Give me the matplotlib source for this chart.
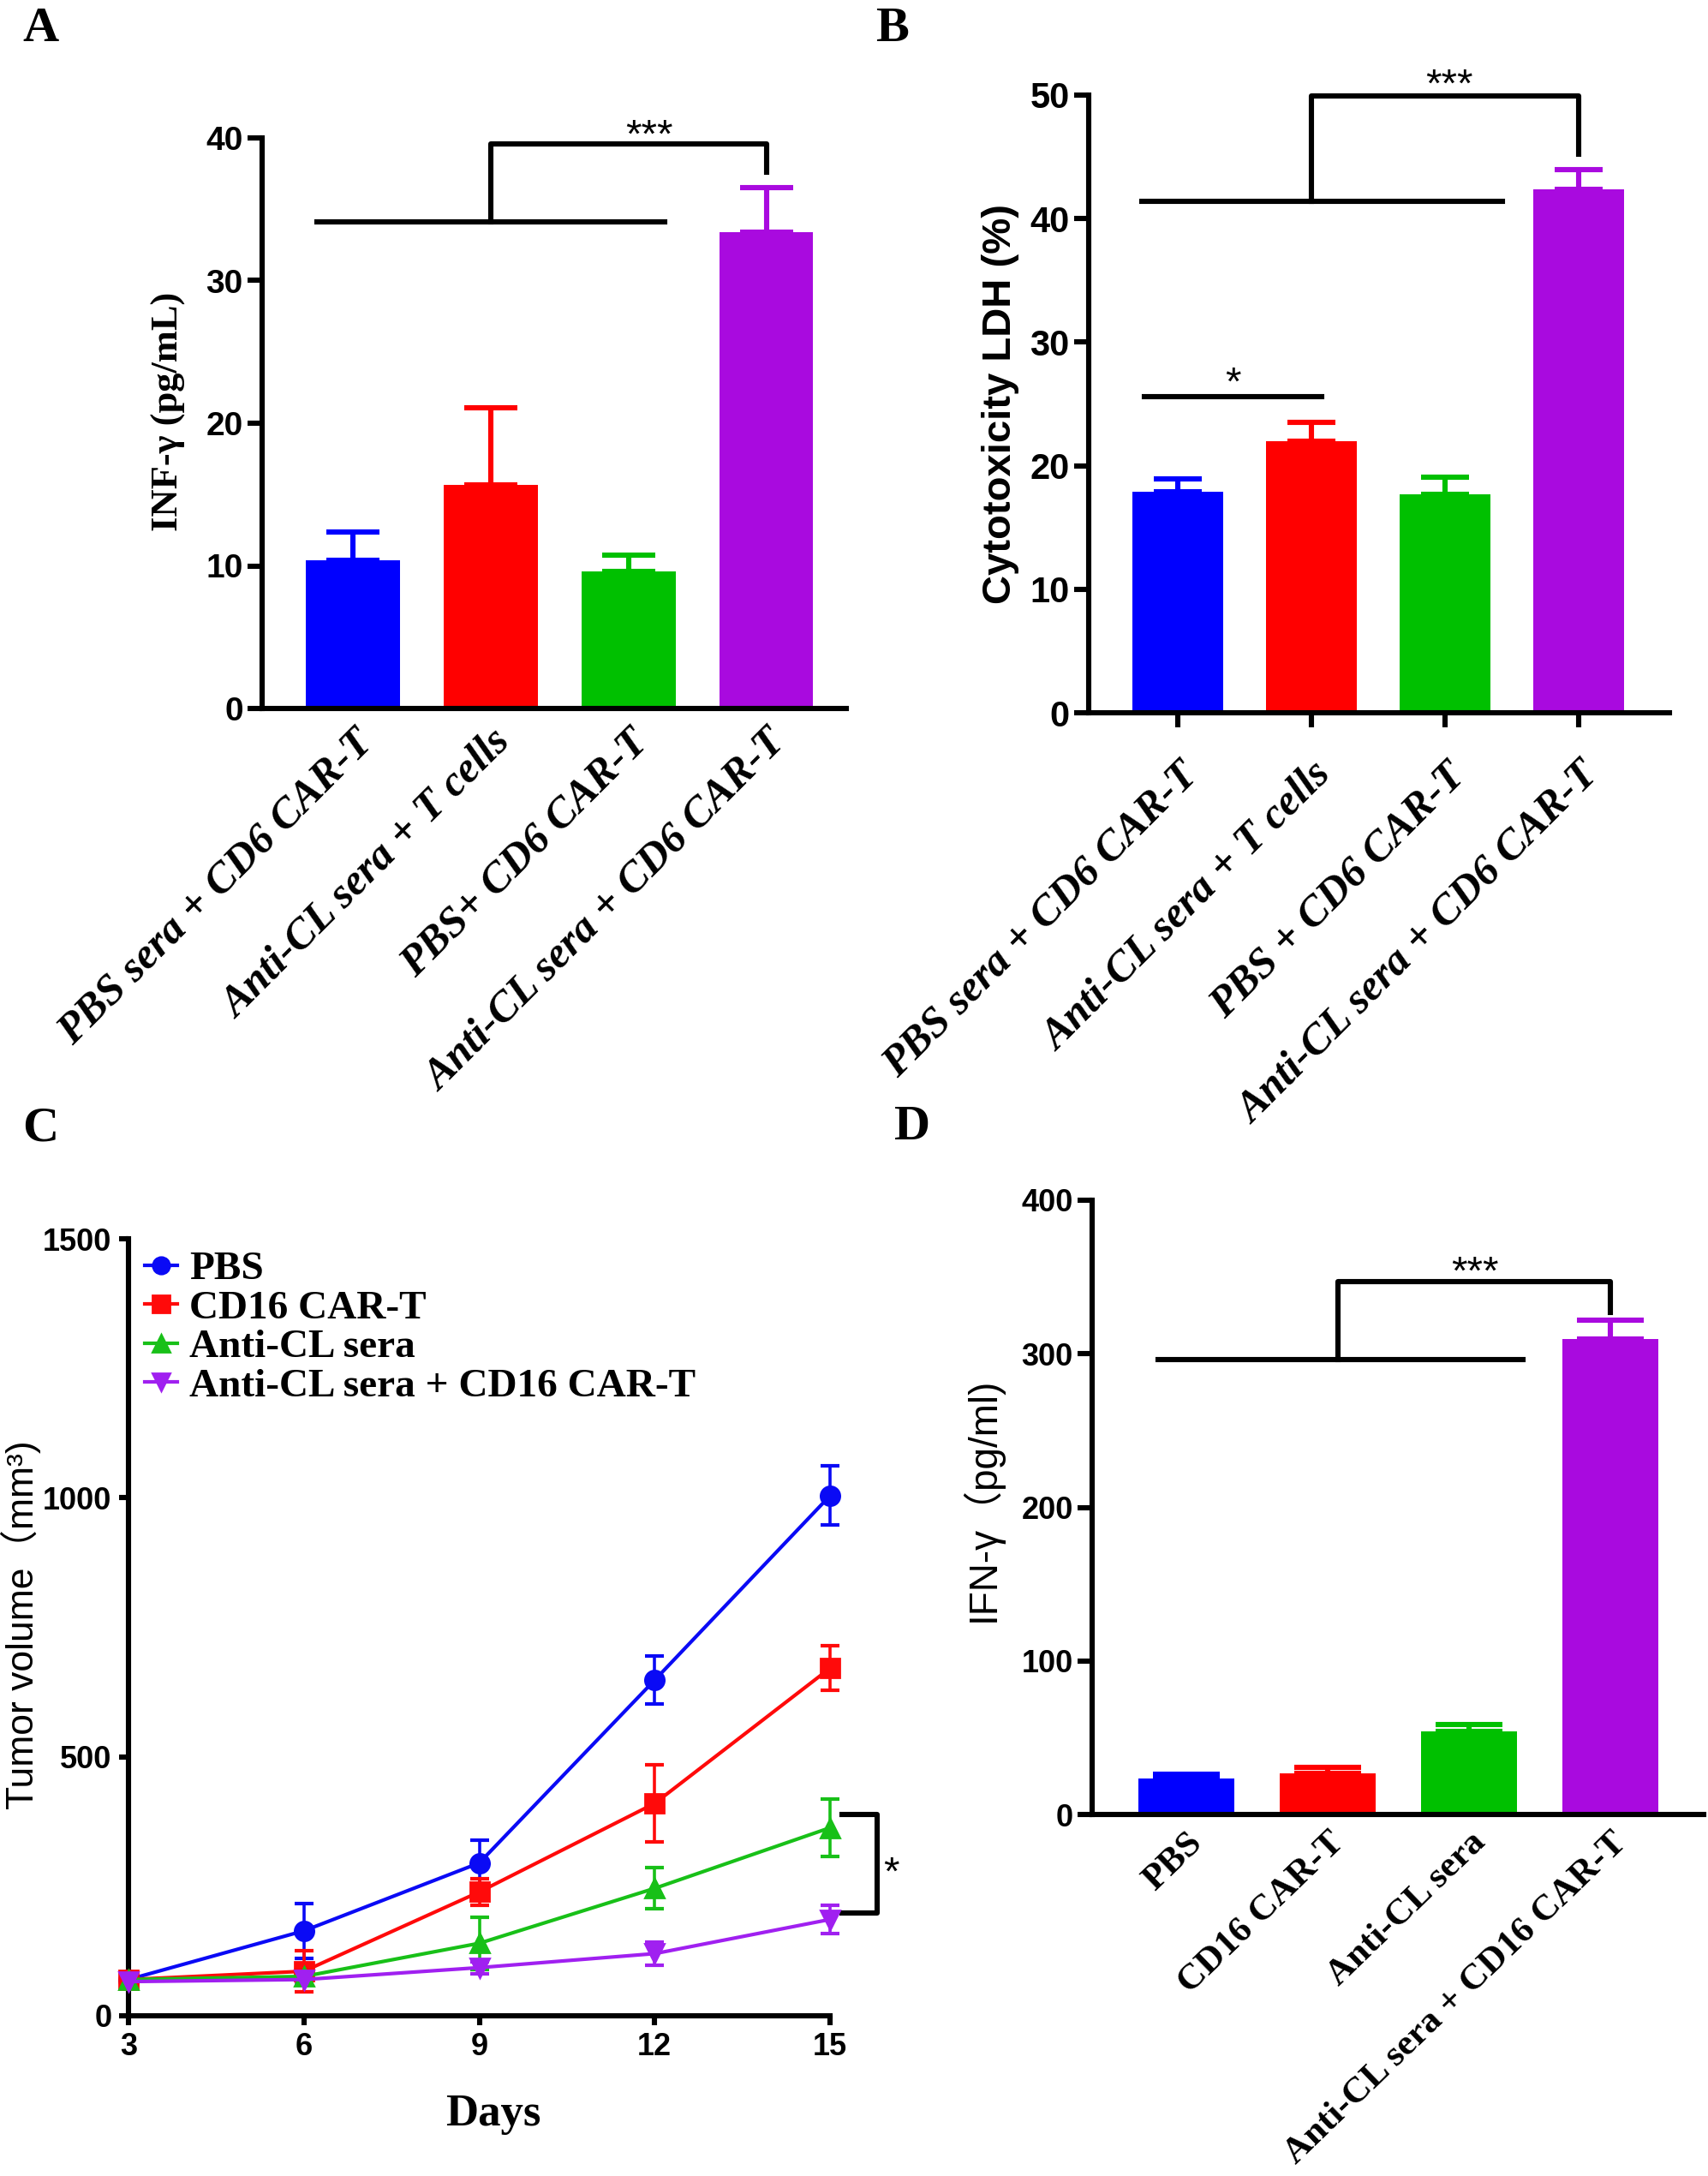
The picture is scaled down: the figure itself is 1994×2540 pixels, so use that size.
import numpy as np
import matplotlib
matplotlib.use('Agg')
import matplotlib.pyplot as plt
from matplotlib.lines import Line2D

plt.rcParams['font.family'] = ['Liberation Sans', 'Noto Sans CJK SC']
plt.rcParams['font.weight'] = 'bold'
plt.rcParams['axes.linewidth'] = 2.2
SERIF = 'Liberation Serif'

# ---- data ----
bar_colors = ['#0000FF', '#FF0000', '#00C000', '#A90ADF']

a_labels = ['PBS sera + CD6 CAR-T', 'Anti-CL sera + T cells',
            'PBS+ CD6 CAR-T', 'Anti-CL sera + CD6 CAR-T']
a_mean = [10.4, 15.7, 9.6, 33.4]
a_err = [2.0, 5.4, 1.15, 3.1]

b_labels = ['PBS sera + CD6 CAR-T', 'Anti-CL sera + T cells',
            'PBS + CD6 CAR-T', 'Anti-CL sera + CD6 CAR-T']
b_mean = [17.9, 22.0, 17.7, 42.4]
b_err = [1.0, 1.5, 1.4, 1.55]

days = [3, 6, 9, 12, 15]
c_names = ['PBS', 'CD16 CAR-T', 'Anti-CL sera', 'Anti-CL sera + CD16 CAR-T']
c_pbs = [70, 164, 295, 648, 1004]
c_pbs_err = [12, 53, 44, 46, 57]
c_cd16 = [70, 86, 239, 410, 671]
c_cd16_err = [12, 40, 25, 75, 43]
c_anti = [70, 76, 140, 246, 363]
c_anti_err = [8, 12, 50, 40, 56]
c_combo = [66, 70, 93, 120, 186]
c_combo_err = [6, 8, 12, 22, 27]
c_colors = ['#0A0AF5', '#FF0A0A', '#18C018', '#A020F0']
c_markers = ['o', 's', '^', 'v']

d_labels = ['PBS', 'CD16 CAR-T', 'Anti-CL sera', 'Anti-CL sera + CD16 CAR-T']
d_mean = [23.3, 26.5, 54.3, 309.4]
d_err = [2.7, 4.0, 4.0, 12.6]

W, H = 1994, 2540
fig = plt.figure(figsize=(W / 200, H / 200), dpi=200)


def box(l, r, t, b):
    return [l / W, 1 - b / H, (r - l) / W, (b - t) / H]


def bars(ax, means, errs, cap):
    x = np.arange(len(means))
    ax.bar(x, means, width=0.68, color=bar_colors, zorder=2)
    for xi, m, e, c in zip(x, means, errs, bar_colors):
        ax.errorbar(xi, m, yerr=[[0], [e]], color=c, capsize=cap,
                    elinewidth=2.2, capthick=2.2, zorder=1)
    ax.spines['top'].set_visible(False)
    ax.spines['right'].set_visible(False)


def star(ax, x, y, txt):
    ax.text(x, y, txt, ha='center', va='center', fontsize=17,
            fontweight='normal')


def bracket(ax, x0, x1, y, xv, ytop, xr, yr, sx, sy, txt='***'):
    ax.plot([x0, x1], [y, y], color='k', lw=2.2, clip_on=False)
    ax.plot([xv, xv, xr, xr], [y, ytop, ytop, yr], color='k', lw=2.2,
            clip_on=False)
    star(ax, sx, sy, txt)


# ---- A ----
axA = fig.add_axes(box(306, 988, 161, 827))
bars(axA, a_mean, a_err, 11)
axA.set_xlim(-0.66, 3.58)
axA.set_ylim(0, 40)
axA.set_yticks([0, 10, 20, 30, 40])
axA.tick_params(axis='y', length=6, width=2.2, labelsize=14, pad=2)
axA.tick_params(axis='x', length=0, pad=6)
axA.set_xticks(range(4))
axA.set_xticklabels(a_labels, rotation=45, ha='right', va='top',
                    rotation_mode='anchor', family=SERIF, style='italic',
                    fontweight='bold', fontsize=18)
axA.set_ylabel('INF-γ (pg/mL)', family=SERIF, fontsize=16, fontweight='bold')
axA.yaxis.set_label_coords(-0.13, 0.52)
bracket(axA, -0.26, 2.26, 34.1, 1.0, 39.6, 3.0, 37.6, 2.15, 40.1)

# ---- B ----
axB = fig.add_axes(box(1271, 1949, 111, 832))
bars(axB, b_mean, b_err, 10)
axB.set_xlim(-0.667, 3.68)
axB.set_ylim(0, 50)
axB.set_yticks([0, 10, 20, 30, 40, 50])
axB.tick_params(axis='y', length=6, width=2.2, labelsize=15, pad=2)
axB.tick_params(axis='x', length=6, width=2.2, pad=12)
axB.set_xticks(range(4))
axB.set_xticklabels(b_labels, rotation=45, ha='right', va='top',
                    rotation_mode='anchor', family=SERIF, style='italic',
                    fontweight='bold', fontsize=18)
axB.set_ylabel('Cytotoxicity LDH (%)', fontsize=17, fontweight='bold')
axB.yaxis.set_label_coords(-0.12, 0.50)
bracket(axB, -0.27, 2.43, 41.4, 1.0, 49.9, 3.0, 45.2, 2.03, 50.7)
axB.plot([-0.25, 1.08], [25.6, 25.6], color='k', lw=2.2)
star(axB, 0.41, 26.6, '*')

# ---- C ----
axC = fig.add_axes(box(150, 969, 1446, 2353))
series = [(c_pbs, c_pbs_err), (c_cd16, c_cd16_err),
          (c_anti, c_anti_err), (c_combo, c_combo_err)]
handles = []
for (vals, errs), name, col, mk in zip(series, c_names, c_colors, c_markers):
    axC.errorbar(days, vals, yerr=errs, color=col, marker=mk, markersize=8,
                 lw=1.5, elinewidth=1.3, capsize=3.8, capthick=1.5,
                 clip_on=False, zorder=3)
    handles.append(Line2D([], [], color=col, marker=mk, markersize=7,
                          lw=1.5, label=name))
axC.set_xlim(3, 15)
axC.set_ylim(0, 1500)
axC.set_xticks(days)
axC.set_yticks([0, 500, 1000, 1500])
axC.spines['top'].set_visible(False)
axC.spines['right'].set_visible(False)
axC.tick_params(axis='both', length=4, width=2.2, labelsize=13, pad=3)
axC.set_xlabel('Days', family=SERIF, fontsize=19, fontweight='bold')
axC.xaxis.set_label_coords(0.52, -0.10)
axC.set_ylabel('Tumor volume（mm³)', fontsize=16, fontweight='normal')
axC.yaxis.set_label_coords(-0.125, 0.503)
axC.legend(handles=handles, loc='upper left', bbox_to_anchor=(0.0, 1.005),
           frameon=False, prop={'family': SERIF, 'weight': 'bold', 'size': 17},
           handlelength=0.8, handletextpad=0.3, labelspacing=0.05,
           borderaxespad=0)
axC.plot([15.2, 15.8, 15.8, 15.2], [389, 389, 198, 198], color='k', lw=2.2,
         clip_on=False)
star(axC, 16.05, 274, '*')

# ---- D ----
axD = fig.add_axes(box(1275, 1989, 1401, 2118))
bars(axD, d_mean, d_err, 14)
axD.set_xlim(-0.667, 3.66)
axD.set_ylim(0, 400)
axD.set_yticks([0, 100, 200, 300, 400])
axD.tick_params(axis='y', length=6, width=2.2, labelsize=13, pad=2)
axD.tick_params(axis='x', length=0, pad=5)
axD.set_xticks(range(4))
axD.set_xticklabels(d_labels, rotation=44, ha='right', va='top',
                    rotation_mode='anchor', family=SERIF, fontweight='bold',
                    fontsize=15.5)
axD.set_ylabel('IFN-γ（pg/ml)', fontsize=16.5, fontweight='normal')
axD.yaxis.set_label_coords(-0.146, 0.513)
bracket(axD, -0.2, 2.38, 296, 1.07, 347, 3.0, 327, 2.04, 352)

# ---- panel letters ----
for letter, (px, py) in zip('ABCD', [(26, 8), (1022, 8), (26, 1292), (1044, 1290)]):
    fig.text(px / W, 1 - py / H, letter, family=SERIF, fontsize=21,
             fontweight='bold', va='top', ha='left')

fig.savefig('out.png', dpi=200)
